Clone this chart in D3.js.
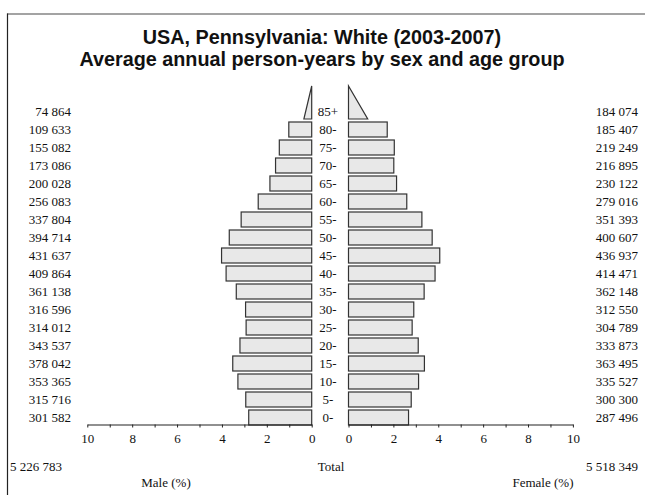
<!DOCTYPE html>
<html>
<head>
<meta charset="utf-8">
<script src="https://cdn.jsdelivr.net/npm/d3@7/dist/d3.min.js"></script>
<style>
  html, body { margin: 0; padding: 0; background: #fff; }
  svg { display: block; }
</style>
</head>
<body>
<svg id="chart" width="645" height="495"></svg>
<script>
const ageGroups = ["0-", "5-", "10-", "15-", "20-", "25-", "30-", "35-", "40-", "45-", "50-", "55-", "60-", "65-", "70-", "75-", "80-", "85+"];
const maleCounts = [301582, 315716, 353365, 378042, 343537, 314012, 316596, 361138, 409864, 431637, 394714, 337804, 256083, 200028, 173086, 155082, 109633, 74864];
const femaleCounts = [287496, 300300, 335527, 363495, 333873, 304789, 312550, 362148, 414471, 436937, 400607, 351393, 279016, 230122, 216895, 219249, 185407, 184074];
const tickValues = [0, 1, 2, 3, 4, 5, 6, 7, 8, 9, 10];
const tickLabels = [0, 2, 4, 6, 8, 10];
const titleLines = ["USA, Pennsylvania: White (2003-2007)", "Average annual person-years by sex and age group"];

const maleTotal = d3.sum(maleCounts);
const femaleTotal = d3.sum(femaleCounts);
const grand = maleTotal + femaleTotal;
const fmt = v => d3.format(",")(v).replace(/,/g, " ");

const svg = d3.select("#chart");
const serif = "'Liberation Serif', 'Times New Roman', serif";

// frame
svg.append("line").attr("x1", 7).attr("x2", 645).attr("y1", 14).attr("y2", 14)
  .attr("stroke", "#858585").attr("stroke-width", 1.6);
svg.append("line").attr("x1", 7.5).attr("x2", 7.5).attr("y1", 13.5).attr("y2", 495)
  .attr("stroke", "#222").attr("stroke-width", 1.2);

// title
svg.append("g").selectAll("text").data(titleLines).join("text")
  .attr("x", 322).attr("y", (d, i) => 44 + i * 22)
  .attr("text-anchor", "middle")
  .attr("font-family", "'Liberation Sans', Arial, sans-serif")
  .attr("font-weight", "bold").attr("font-size", 19.8)
  .attr("fill", "#111")
  .text(d => d);

const xM = d3.scaleLinear().domain([0, 10]).range([311.7, 87.3]);
const xF = d3.scaleLinear().domain([0, 10]).range([348.5, 572.9]);
const y = d3.scaleBand().domain(ageGroups.slice().reverse()).range([102, 426]);
const barH = 15;

const rows = ageGroups.map((a, i) => ({age: a, m: maleCounts[i], f: femaleCounts[i],
  mp: maleCounts[i] / grand * 100, fp: femaleCounts[i] / grand * 100}));
const normal = rows.filter(r => r.age !== "85+");
const last = rows.find(r => r.age === "85+");

const barStyle = sel => sel.attr("fill", "#e8e8e8").attr("stroke", "#333").attr("stroke-width", 1.2);

svg.append("g").selectAll("rect").data(normal).join("rect")
  .attr("x", d => xM(d.mp)).attr("width", d => xM(0) - xM(d.mp))
  .attr("y", d => y(d.age) + 2).attr("height", barH)
  .call(barStyle);
svg.append("g").selectAll("rect").data(normal).join("rect")
  .attr("x", xF(0)).attr("width", d => xF(d.fp) - xF(0))
  .attr("y", d => y(d.age) + 2).attr("height", barH)
  .call(barStyle);

// open-ended group as triangles
const baseY = y(last.age) + 2 + barH;
const apexY = baseY - 33;
svg.append("path")
  .attr("d", `M${xM(0)},${apexY}L${xM(0)},${baseY}L${xM(last.mp / 2)},${baseY}Z`)
  .call(barStyle);
svg.append("path")
  .attr("d", `M${xF(0)},${apexY}L${xF(0)},${baseY}L${xF(last.fp / 2)},${baseY}Z`)
  .call(barStyle);

// labels
const textStyle = sel => sel.attr("font-family", serif).attr("font-size", 13).attr("fill", "#111");
svg.append("g").selectAll("text").data(rows).join("text")
  .attr("x", 71).attr("y", d => y(d.age) + y.bandwidth() / 2).attr("dy", "0.35em")
  .attr("text-anchor", "end").text(d => fmt(d.m)).call(textStyle);
svg.append("g").selectAll("text").data(rows).join("text")
  .attr("x", 638).attr("y", d => y(d.age) + y.bandwidth() / 2).attr("dy", "0.35em")
  .attr("text-anchor", "end").text(d => fmt(d.f)).call(textStyle);
svg.append("g").selectAll("text").data(rows).join("text")
  .attr("x", 328).attr("y", d => y(d.age) + y.bandwidth() / 2).attr("dy", "0.35em")
  .attr("text-anchor", "middle").text(d => d.age).call(textStyle);

// axes
const axisY = 424.5;
function drawAxis(scale) {
  const g = svg.append("g").attr("transform", `translate(0,${axisY})`)
    .call(d3.axisBottom(scale).tickValues(tickValues).tickSize(3).tickSizeOuter(0)
      .tickFormat(d => tickLabels.includes(d) ? d : ""));
  g.select(".domain").attr("stroke", "#222").attr("stroke-width", 1.1);
  g.selectAll(".tick line").attr("stroke", "#222");
  g.selectAll(".tick text").attr("font-family", serif).attr("font-size", 13).attr("fill", "#111").attr("dy", "0.95em");
}
drawAxis(xM);
drawAxis(xF);

// totals and titles
svg.append("text").attr("x", 10).attr("y", 471).text(fmt(maleTotal)).call(textStyle);
svg.append("text").attr("x", 638).attr("y", 471).attr("text-anchor", "end").text(fmt(femaleTotal)).call(textStyle);
svg.append("text").attr("x", 331).attr("y", 471).attr("text-anchor", "middle").text("Total").call(textStyle);
svg.append("text").attr("x", 166).attr("y", 487).attr("text-anchor", "middle").text("Male (%)").call(textStyle);
svg.append("text").attr("x", 543).attr("y", 487).attr("text-anchor", "middle").text("Female (%)").call(textStyle);
</script>
</body>
</html>
